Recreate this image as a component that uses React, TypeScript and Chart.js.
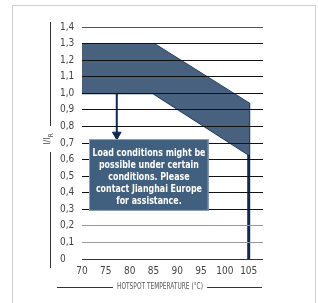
import React, { useEffect, useRef } from "react";
import { Chart, registerables } from "chart.js";

Chart.register(...registerables);

// ---- data ----
const xTicks = [70, 75, 80, 85, 90, 95, 100, 105];
const xRange = [70, 108];
const yRange = [0, 1.4];
// safe operating area (upper edge, then lower edge back)
const areaX = [70, 85, 105, 105, 85, 70, 70];
const areaY = [1.3, 1.3, 0.94, 0.63, 1.0, 1.0, 1.3];
// dark outline of the area (bottom, right and sloped top edges)
const edgeX = [70, 85, 105, 105, 85];
const edgeY = [1.0, 1.0, 0.63, 0.94, 1.3];
// vertical limit line at 105 °C
const limitX = [105, 105];
const limitY = [0, 0.94];
// arrow pointing to note
const arrowX = [77.3, 77.3];
const arrowY = [1.05, 0.75];
// note box bounds (data coordinates)
const noteX = [71.5, 96.6];
const noteY = [0.29, 0.724];
const noteLines = [
  "Load conditions might be",
  "possible under certain",
  "conditions. Please",
  "contact Jianghai Europe",
  "for assistance.",
];
const xTitle = "HOTSPOT TEMPERATURE (°C)";

const FONT = "'DejaVu Sans Condensed', 'DejaVu Sans', sans-serif";
const NAVY = "#0c2a55";
const AREA = "#47617f";

function squeezedText(ctx: any, text: string, x: number, y: number, sx: number) {
  ctx.save();
  ctx.translate(x, y);
  ctx.scale(sx, 1);
  ctx.fillText(text, 0, 0);
  ctx.restore();
}

const decor = {
  id: "decor",
  beforeDraw(chart: any) {
    const ctx = chart.ctx;
    ctx.save();
    ctx.fillStyle = "#fff";
    ctx.fillRect(0, 0, chart.width, chart.height);
    ctx.strokeStyle = "#cfcfcf";
    ctx.lineWidth = 1;
    ctx.strokeRect(12.5, 5.5, 303, 310);
    ctx.restore();
  },
  afterDraw(chart: any) {
    const ctx = chart.ctx;
    const xs = chart.scales.x;
    const ys = chart.scales.y;
    const ca = chart.chartArea;
    ctx.save();
    // note box
    const bx0 = xs.getPixelForValue(noteX[0]);
    const bx1 = xs.getPixelForValue(noteX[1]);
    const by0 = ys.getPixelForValue(noteY[1]);
    const by1 = ys.getPixelForValue(noteY[0]);
    ctx.fillStyle = "#41607f";
    ctx.fillRect(bx0, by0, bx1 - bx0, by1 - by0);
    ctx.strokeStyle = "#8fa2b8";
    ctx.lineWidth = 1;
    ctx.strokeRect(Math.round(bx0) + 0.5, Math.round(by0) + 0.5, bx1 - bx0 - 1, by1 - by0 - 1);
    ctx.fillStyle = "#fff";
    ctx.font = `bold 10.5px ${FONT}`;
    ctx.textAlign = "center";
    ctx.textBaseline = "middle";
    const cx = (bx0 + bx1) / 2;
    const s = Math.min(1, 113 / ctx.measureText(noteLines[0]).width);
    noteLines.forEach((l, i) => squeezedText(ctx, l, cx, by0 + 14 + i * 12, s));

    // y title with lines
    const yc = (ca.top + ca.bottom) / 2 - 4;
    const tx = 48;
    ctx.strokeStyle = "#333";
    ctx.lineWidth = 1;
    ctx.beginPath();
    ctx.moveTo(50.5, 22);
    ctx.lineTo(50.5, yc - 13);
    ctx.moveTo(50.5, yc + 13);
    ctx.lineTo(50.5, 268);
    ctx.stroke();
    ctx.save();
    ctx.translate(tx, yc);
    ctx.rotate(-Math.PI / 2);
    ctx.fillStyle = "#555";
    ctx.textBaseline = "middle";
    ctx.textAlign = "left";
    ctx.font = `9px ${FONT}`;
    const main = "I/I";
    const w = ctx.measureText(main).width;
    ctx.font = `6.5px ${FONT}`;
    const ws = ctx.measureText("R").width;
    const start = -(w + ws) / 2;
    ctx.font = `9px ${FONT}`;
    ctx.fillText(main, start, 0);
    ctx.font = `6.5px ${FONT}`;
    ctx.fillText("R", start + w, 3);
    ctx.restore();

    // x title with lines
    ctx.font = `8.5px ${FONT}`;
    ctx.fillStyle = "#555";
    ctx.textAlign = "center";
    ctx.textBaseline = "middle";
    const xcx = 160;
    const ty = 287;
    const sxT = Math.min(1, 86 / ctx.measureText(xTitle).width);
    squeezedText(ctx, xTitle, xcx, ty, sxT);
    const tw = ctx.measureText(xTitle).width * sxT;
    ctx.beginPath();
    ctx.moveTo(57, ty + 0.5);
    ctx.lineTo(xcx - tw / 2 - 4, ty + 0.5);
    ctx.moveTo(xcx + tw / 2 + 4, ty + 0.5);
    ctx.lineTo(262, ty + 0.5);
    ctx.stroke();
    ctx.restore();
  },
};

export default function App() {
  const ref = useRef<HTMLCanvasElement>(null);
  useEffect(() => {
    const pts = (xa: number[], ya: number[]) => xa.map((x, i) => ({ x, y: ya[i] }));
    const chart = new Chart(ref.current!, {
      type: "line",
      data: {
        datasets: [
          {
            data: pts(areaX, areaY),
            borderColor: AREA,
            borderWidth: 1,
            backgroundColor: AREA,
            fill: "shape",
            pointRadius: 0,
            tension: 0,
          },
          {
            data: pts(edgeX, edgeY),
            borderColor: NAVY,
            borderWidth: 2,
            pointRadius: 0,
            fill: false,
            tension: 0,
          },
          {
            data: pts(limitX, limitY),
            borderColor: NAVY,
            borderWidth: 3,
            pointRadius: 0,
            fill: false,
          },
          {
            data: pts(arrowX, arrowY),
            borderColor: NAVY,
            borderWidth: 2,
            fill: false,
            pointStyle: "triangle",
            pointRadius: [0, 5],
            pointRotation: 180,
            pointBackgroundColor: NAVY,
            pointBorderColor: NAVY,
            pointBorderWidth: 1,
          },
        ] as any,
      },
      options: {
        animation: false,
        responsive: false,
        maintainAspectRatio: false,
        events: [],
        layout: { padding: { left: 60, right: 55, top: 27, bottom: 24 } },
        plugins: { legend: { display: false }, tooltip: { enabled: false } },
        scales: {
          x: {
            type: "linear",
            min: xRange[0],
            max: xRange[1],
            afterBuildTicks: (s: any) => {
              s.ticks = xTicks.map((v) => ({ value: v }));
            },
            afterFit: (s: any) => {
              s.height = 20;
            },
            grid: { display: false, drawTicks: false },
            border: { display: false },
            ticks: {
              padding: 6,
              color: "#444",
              font: { family: FONT, size: 10 },
              maxRotation: 0,
              autoSkip: false,
            },
          },
          y: {
            type: "linear",
            min: yRange[0],
            max: yRange[1],
            afterBuildTicks: (s: any) => {
              const t = [];
              for (let i = 0; i <= 14; i++) t.push({ value: i / 10 });
              s.ticks = t;
            },
            afterFit: (s: any) => {
              s.width = 22;
            },
            border: { display: false },
            grid: {
              z: 1,
              drawTicks: false,
              lineWidth: 1,
              color: (c: any) => {
                const v = Math.round((c.tick?.value ?? 0) * 10);
                if (v === 14) return "#555";
                if (v === 1 || v === 2) return "#999";
                if (v === 0) return "#333";
                return "#111";
              },
            },
            ticks: {
              crossAlign: "far",
              color: "#444",
              font: { family: FONT, size: 10 },
              autoSkip: false,
              callback: (v: any) => (v === 0 ? "0" : Number(v).toFixed(1).replace(".", ",")),
            },
          },
        },
      } as any,
      plugins: [decor],
    });
    return () => chart.destroy();
  }, []);
  return (
    <div style={{ position: "fixed", left: 0, top: 0, width: 318, height: 303 }}>
      <canvas ref={ref} width={318} height={303} style={{ display: "block" }} />
    </div>
  );
}
